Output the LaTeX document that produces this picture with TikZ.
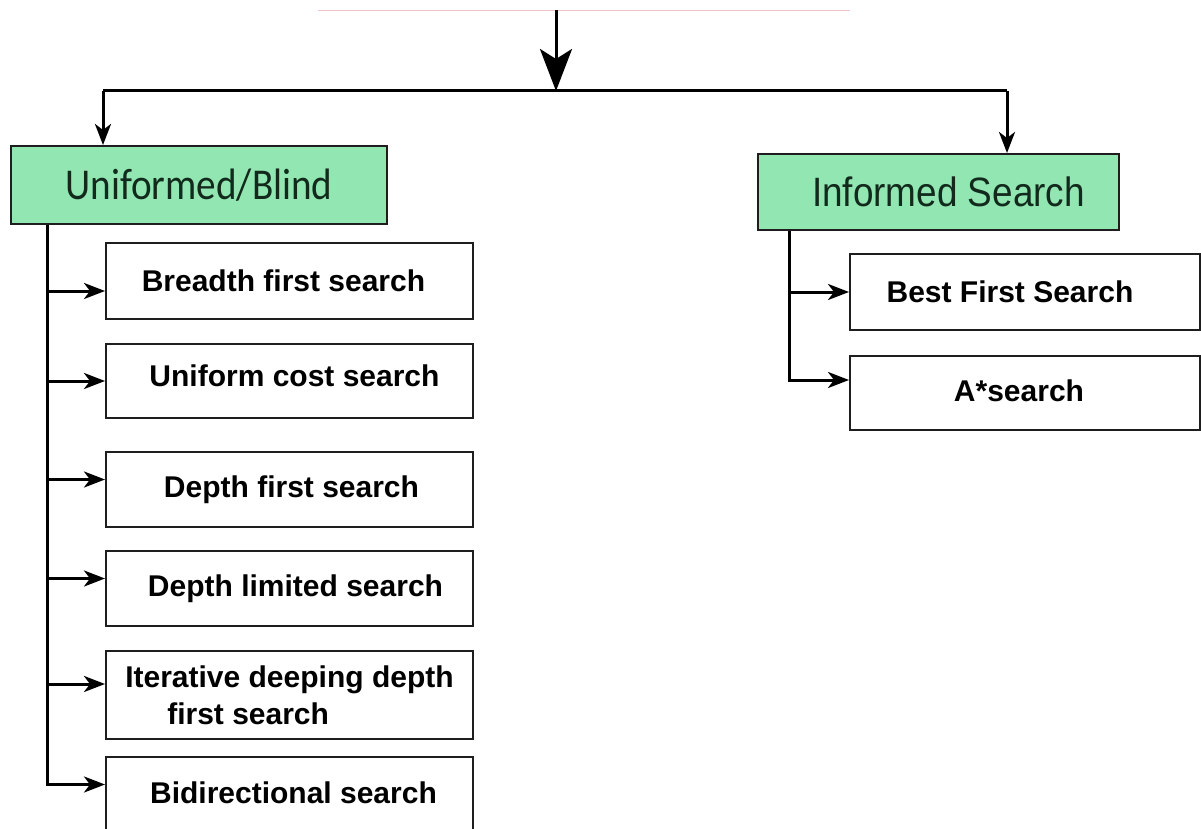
\documentclass[tikz,border=0pt]{standalone}
\usepackage{fontspec}
\setmainfont{Liberation Sans}
\newfontfamily\carlfont{Carlito}
\usetikzlibrary{arrows.meta,calc}
\definecolor{boxgreen}{RGB}{146,230,178}
\definecolor{greentext}{RGB}{18,42,28}
\definecolor{faintpink}{RGB}{236,196,200}
\definecolor{edgegray}{RGB}{30,30,30}
\begin{document}
\begin{tikzpicture}[x=1pt,y=-1pt,
  conn/.style={line width=3pt,black},
  arr/.style={conn,-{Stealth[length=21pt,width=16pt,inset=6pt]}},
  bigarr/.style={conn,-{Stealth[length=42pt,width=32pt,inset=10pt]}},
  catbox/.style={draw=edgegray,line width=2pt,fill=boxgreen,anchor=north west,inner sep=0pt,
     text=greentext,align=center},
  itembox/.style={draw=edgegray,line width=2pt,fill=white,anchor=north west,inner sep=0pt,
     align=center,font=\bfseries\fontsize{30}{37}\selectfont},
  topbox/.style={anchor=north west,inner sep=0pt},
  faint/.style={draw=faintpink,line width=1.5pt}
]
\useasboundingbox (0,0) rectangle (1201,829);
\clip (0,0) rectangle (1201,829);

% partially visible top box (only its lower edge shows)
\node[topbox,minimum width=532pt,minimum height=70pt] (top) at (318,-60) {};
\draw[faint] (top.south west) -- (top.south east);

% category boxes
\node[catbox,minimum width=376pt,minimum height=78pt] (uni) at (10,145)
  {\carlfont\fontsize{44}{50}\selectfont\scalebox{0.89}[1]{Uniformed/Blind}};
\node[catbox,minimum width=361pt,minimum height=76pt] (inf) at (757,153)
  {\hspace*{20pt}\fontsize{41}{48}\selectfont\scalebox{0.9}[1]{Informed Search}};

% left items
\node[itembox,minimum width=367pt,minimum height=76pt] (b1) at (105,242) {\raisebox{-2pt}{\hspace*{-12pt}Breadth first search}};
\node[itembox,minimum width=367pt,minimum height=74pt] (b2) at (105,343) {\raisebox{10pt}{\hspace*{10pt}Uniform cost search}};
\node[itembox,minimum width=367pt,minimum height=75pt] (b3) at (105,451) {\raisebox{-11pt}{\hspace*{4pt}Depth first search}};
\node[itembox,minimum width=367pt,minimum height=75pt] (b4) at (105,550) {\hspace*{12pt}Depth limited search};
\node[itembox,minimum width=367pt,minimum height=88pt,align=left] (b5) at (105,650)
  {Iterative deeping depth\\\hspace*{42pt}first search};
\node[itembox,minimum width=367pt,minimum height=75pt] (b6) at (105,756) {\raisebox{3pt}{\hspace*{8pt}Bidirectional search}};

% right items
\node[itembox,minimum width=350pt,minimum height=76pt] (r1) at (849,253) {\raisebox{-3pt}{\hspace*{-30pt}Best First Search}};
\node[itembox,minimum width=350pt,minimum height=74pt] (r2) at (849,355) {\raisebox{4pt}{\hspace*{-12pt}A*search}};

% junction coordinates
\coordinate (jm) at (556,91);
\coordinate (jl) at (103,91);
\coordinate (jr) at (1007,91);
\coordinate (lv) at (47,0);
\coordinate (rv) at (789,0);

% top connector
\draw[bigarr] (top.south -| jm) -- (jm);
\draw[conn] (jl) -- (jr);
\draw[arr] (jl) -- (uni.north -| jl);
\draw[arr] (jr) -- (inf.north -| jr);

% left tree
\draw[arr] (uni.south -| lv) |- ([yshift=10pt]b6.west);
\draw[arr] ([yshift=-10pt]b1.west -| lv) -- ([yshift=-10pt]b1.west);
\draw[arr] (b2.west -| lv) -- (b2.west);
\draw[arr] ([yshift=10pt]b3.west -| lv) -- ([yshift=10pt]b3.west);
\draw[arr] ([yshift=10pt]b4.west -| lv) -- ([yshift=10pt]b4.west);
\draw[arr] ([yshift=11pt]b5.west -| lv) -- ([yshift=11pt]b5.west);

% right tree
\draw[arr] (inf.south -| rv) |- ([yshift=13pt]r2.west);
\draw[arr] (r1.west -| rv) -- (r1.west);
\end{tikzpicture}
\end{document}
